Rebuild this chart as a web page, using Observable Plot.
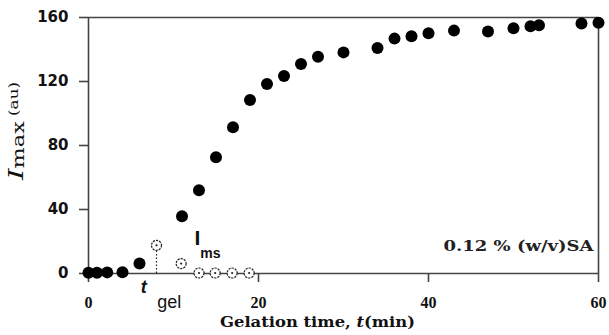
<!DOCTYPE html>
<html><head><meta charset="utf-8">
<script src="https://cdn.jsdelivr.net/npm/d3@7"></script>
<script src="https://cdn.jsdelivr.net/npm/@observablehq/plot@0.6"></script>
<style>body{margin:0;background:#fff} svg{display:block}</style>
</head><body><div id="chart"></div>
<script>
// Filled circles: I_max vs gelation time
const filledTime = [0, 1, 2.2, 4, 6, 11, 13, 15, 17, 19, 21, 23, 25, 27, 30, 34, 36, 38, 40, 43, 47, 50, 52, 53, 58, 60];
const filledImax = [0.5, 0.5, 0.7, 0.8, 6.3, 35.8, 52, 72.6, 91.4, 108.5, 118.4, 123.4, 131, 135.5, 138.2, 141, 146.8, 148.3, 150.1, 151.8, 151.2, 153.3, 154.5, 155.1, 156.2, 156.7];
// Open circles: I_ms
const openTime = [8, 10.9, 13, 14.9, 16.9, 18.9];
const openIms = [17.6, 6.2, 0.3, 0.3, 0.3, 0.3];
const tGel = 8;
const xTicks = [0, 20, 40, 60];
const yTicks = [0, 40, 80, 120, 160];
const sampleLabel = "0.12 % (w/v)SA";

const filled = filledTime.map((t, i) => ({t, v: filledImax[i]}));
const open = openTime.map((t, i) => ({t, v: openIms[i]}));

const axisColor = "#444";
const serif = "'DejaVu Serif', 'Liberation Serif', serif";
const sans = "'DejaVu Sans', sans-serif";

const plot = Plot.plot({
  width: 609, height: 335,
  marginLeft: 88, marginRight: 11, marginTop: 17, marginBottom: 62,
  x: {domain: [0, 60]},
  y: {domain: [0, 160]},
  style: {background: "#fff", color: "#111", fontFamily: sans},
  marks: [
    Plot.ruleY([160], {stroke: axisColor, strokeWidth: 1.6}),
    Plot.ruleX([60], {stroke: axisColor, strokeWidth: 1.6}),
    Plot.ruleY([0], {stroke: axisColor, strokeWidth: 1.6}),
    Plot.ruleX([0], {stroke: axisColor, strokeWidth: 1.6}),
    Plot.axisY(yTicks, {tickSize: 9, tickPadding: 11, fontSize: 15, fontWeight: "bold", fontFamily: sans, stroke: axisColor, strokeWidth: 1.6, label: null, fill: "#111"}),
    Plot.axisX(xTicks, {tickSize: 9, tickPadding: 14, fontSize: 16, fontWeight: "bold", fontFamily: "'Liberation Serif', serif", stroke: axisColor, strokeWidth: 1.6, label: null, fill: "#111"}),
    Plot.ruleX([tGel], {y1: 0, y2: openIms[0], stroke: "#222", strokeWidth: 1.2, strokeDasharray: "1.5,2"}),
    Plot.dot(filled, {x: "t", y: "v", r: 6, fill: "#000", stroke: "none"}),
    Plot.dot(open, {x: "t", y: "v", r: 5, fill: "#fff", stroke: "#222", strokeWidth: 1.2, strokeDasharray: "2.2,1"}),
    Plot.dot(open, {x: "t", y: "v", r: 1.1, fill: "#222", stroke: "none"}),
    Plot.text(["t"], {x: 6.5, y: 0, dy: 14, fontStyle: "italic", fontWeight: "bold", fontSize: 18, fontFamily: "'Liberation Sans', sans-serif", fill: "#111"}),
    Plot.text(["gel"], {x: 9.5, y: 0, dy: 29, fontSize: 18, fontFamily: "'Liberation Sans', sans-serif", fill: "#111"}),
    Plot.text(["I"], {x: 12.8, y: 22, fontSize: 21, fontWeight: "bold", fontFamily: "'Liberation Sans', sans-serif", fill: "#111"}),
    Plot.text(["ms"], {x: 14.35, y: 12.2, fontSize: 14, fontWeight: "bold", fontFamily: "'Liberation Sans', sans-serif", fill: "#111"}),
    Plot.text([sampleLabel], {frameAnchor: "bottom-right", dx: -5, dy: -27, lineAnchor: "middle", textAnchor: "end", fontSize: 14, fontWeight: "bold", fontFamily: serif, fill: "#222", className: "sa-label"})
  ]
});

const svg = d3.select(plot);
svg.selectAll(".sa-label text").attr("textLength", 150).attr("lengthAdjust", "spacingAndGlyphs");

// x-axis title
const xl = svg.append("text")
  .attr("x", 220).attr("y", 327)
  .attr("text-anchor", "start")
  .attr("font-family", serif).attr("font-weight", "bold").attr("font-size", 15)
  .attr("fill", "#111")
  .attr("textLength", 195).attr("lengthAdjust", "spacingAndGlyphs");
xl.append("tspan").text("Gelation time, ");
xl.append("tspan").attr("font-style", "italic").text("t");
xl.append("tspan").text("(min)");

// y-axis title
const yl = svg.append("text")
  .attr("transform", "translate(23,131) rotate(-90)")
  .attr("text-anchor", "middle")
  .attr("font-family", serif).attr("fill", "#111")
  .attr("textLength", 98).attr("lengthAdjust", "spacingAndGlyphs");
yl.append("tspan").attr("font-style", "italic").attr("font-size", 21).text("I");
yl.append("tspan").attr("font-size", 16).attr("dy", 1).text("max");
yl.append("tspan").attr("font-size", 12).attr("dy", -6).text(" (au)");

document.getElementById("chart").append(plot);
</script>
</body></html>
